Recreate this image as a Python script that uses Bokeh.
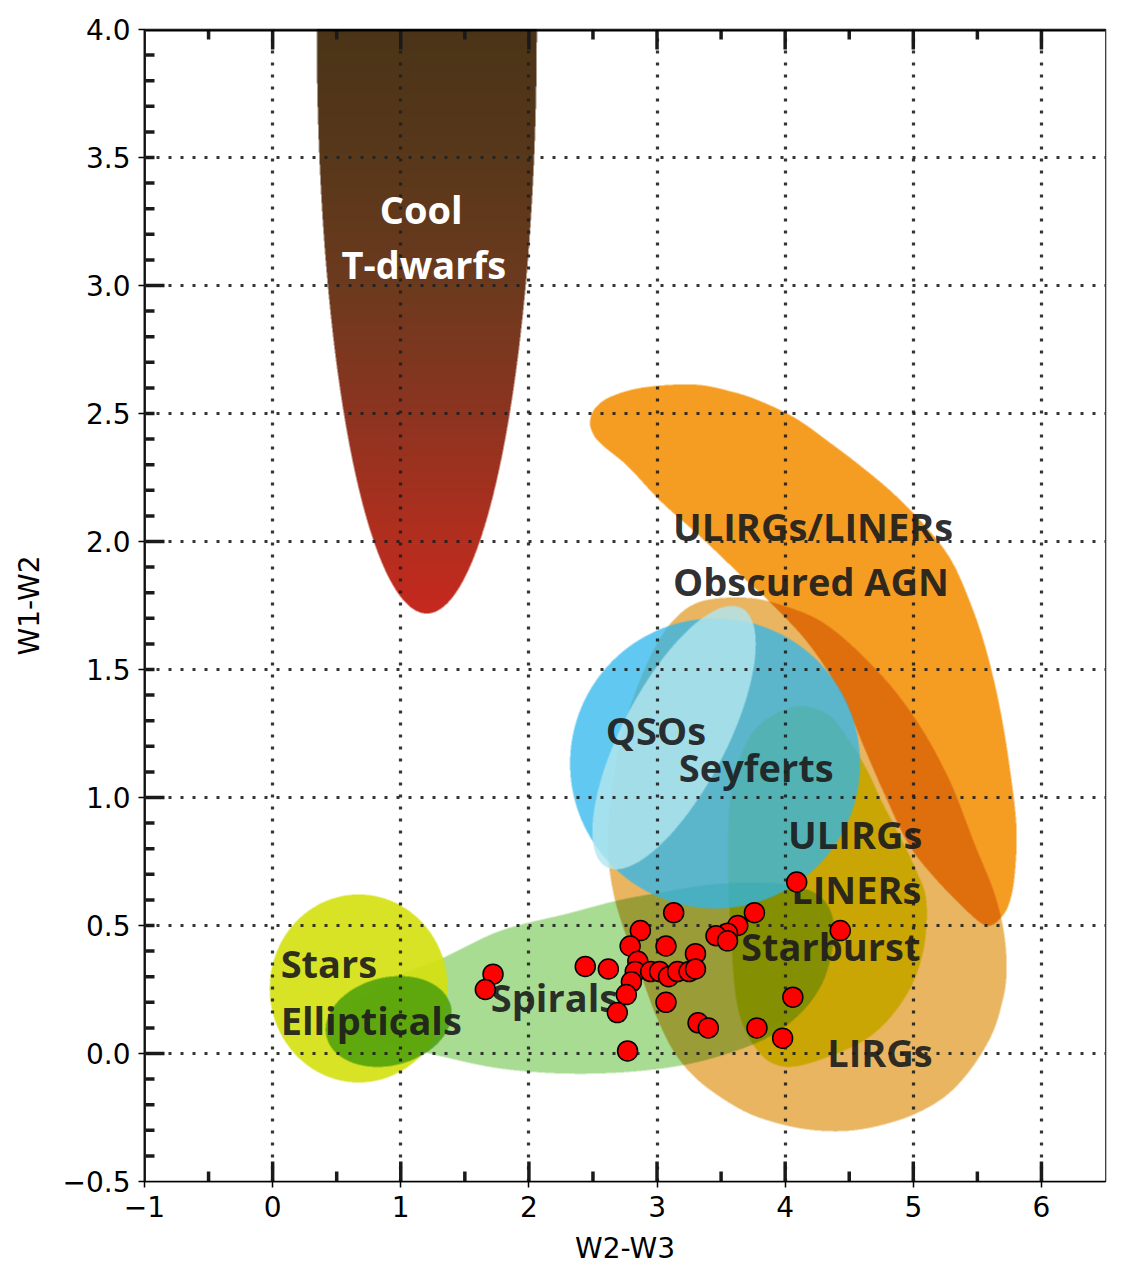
import numpy as np
from bokeh.plotting import figure
from bokeh.models import Range1d, FixedTicker, Span
from bokeh.core.properties import value
from bokeh.embed import file_html
from bokeh.resources import INLINE

# ---------------------------------------------------------------- data
# WISE colours of the sample sources
w2_w3 = [4.09, 3.13, 3.76, 4.43, 3.63, 3.55, 3.46, 3.55, 2.87, 2.79,
         3.07, 3.30, 2.85, 2.44, 2.62, 2.83, 2.80, 2.76, 2.69, 2.95,
         3.02, 3.09, 3.16, 3.25, 3.30, 3.07, 3.32, 3.40, 3.78, 3.98,
         4.06, 2.77, 1.72, 1.66]
w1_w2 = [0.67, 0.55, 0.55, 0.48, 0.50, 0.47, 0.46, 0.44, 0.48, 0.42,
         0.42, 0.39, 0.36, 0.34, 0.33, 0.32, 0.28, 0.23, 0.16, 0.32,
         0.32, 0.30, 0.32, 0.32, 0.33, 0.20, 0.12, 0.10, 0.10, 0.06,
         0.22, 0.01, 0.31, 0.25]

x_ticks = [-1, 0, 1, 2, 3, 4, 5, 6]
y_ticks = [-0.5, 0.0, 0.5, 1.0, 1.5, 2.0, 2.5, 3.0, 3.5, 4.0]
x_tick_labels = ["\u22121", "0", "1", "2", "3", "4", "5", "6"]
y_tick_labels = ["\u22120.5", "0.0", "0.5", "1.0", "1.5", "2.0", "2.5", "3.0", "3.5", "4.0"]

# ------------------------------------------------- source class regions
# outlines in (W2-W3, W1-W2)
obscured_x = [2.477, 2.516, 2.641, 2.898, 3.289, 3.578, 3.813, 4.086, 4.336, 4.594,
              4.852, 5.102, 5.297, 5.453, 5.570, 5.672, 5.750, 5.805, 5.789, 5.742,
              5.664, 5.570, 5.430, 5.164, 4.961, 4.773, 4.617, 4.438, 4.180, 3.891,
              3.656, 3.344, 3.031, 2.773, 2.586, 2.508]
obscured_y = [2.465, 2.520, 2.566, 2.602, 2.613, 2.586, 2.547, 2.480, 2.391, 2.293,
              2.184, 2.055, 1.926, 1.750, 1.574, 1.359, 1.125, 0.883, 0.688, 0.578,
              0.520, 0.500, 0.551, 0.688, 0.820, 1.016, 1.195, 1.406, 1.602, 1.758,
              1.867, 2.016, 2.156, 2.293, 2.371, 2.414]

lirg_x = [3.344, 3.656, 3.930, 4.305, 4.695, 5.008, 5.273, 5.477, 5.633, 5.711,
          5.727, 5.688, 5.609, 5.453, 5.258, 5.023, 4.773, 4.516, 4.258, 4.008,
          3.734, 3.500, 3.289, 3.125, 2.992, 2.875, 2.758, 2.664, 2.617, 2.641,
          2.719, 2.836, 2.992, 3.148]
lirg_y = [1.766, 1.781, 1.758, 1.680, 1.508, 1.313, 1.078, 0.820, 0.625, 0.461,
          0.305, 0.188, 0.070, -0.059, -0.164, -0.234, -0.277, -0.301, -0.301, -0.281,
          -0.238, -0.172, -0.090, 0.012, 0.148, 0.305, 0.461, 0.617, 0.793, 0.988,
          1.223, 1.418, 1.594, 1.703]

starburst_x = [4.047, 4.320, 4.500, 4.641, 4.750, 4.891, 5.023, 5.102, 5.078, 4.945,
               4.672, 4.281, 3.992, 3.789, 3.633, 3.578, 3.555, 3.578, 3.734]
starburst_y = [1.352, 1.328, 1.223, 1.105, 0.988, 0.852, 0.715, 0.594, 0.402, 0.227,
               0.070, -0.023, -0.051, 0.008, 0.172, 0.453, 0.730, 1.012, 1.246]

spirals_x = [0.570, 0.844, 1.078, 1.336, 1.781, 2.305, 2.695, 3.031, 3.422, 3.813,
             4.125, 4.305, 4.383, 4.359, 4.281, 4.125, 3.891, 3.578, 3.188, 2.719,
             2.250, 1.781, 1.391, 1.000, 0.688]
spirals_y = [0.160, 0.266, 0.324, 0.375, 0.480, 0.547, 0.598, 0.629, 0.660, 0.668,
             0.648, 0.598, 0.500, 0.383, 0.266, 0.160, 0.070, 0.004, -0.047, -0.074,
             -0.078, -0.059, -0.020, 0.031, 0.090]

# ellipses: centre (data), semi-axes (screen px), tilt (deg)
qso_ell = (3.453, 1.133, 145, 145, 0.0)
seyfert_ell = (3.133, 1.234, 146, 52, 62.5)
stars_ell = (0.672, 0.254, 89, 94, 0.0)
ellipticals_ell = (0.906, 0.125, 64, 44, 14.0)
tdwarf_ell = (1.203, 4.0, 110, 584, 0.0)

# T-dwarf colour ramp along W1-W2
tdwarf_stop_y = [1.72, 2.0, 2.5, 3.0, 3.5, 4.0]
tdwarf_stop_rgb = [(198, 40, 30), (178, 46, 30), (140, 52, 32),
                   (108, 58, 30), (88, 55, 26), (74, 52, 24)]

labels = [
    ("ULIRGs/LINERs", 3.125, 2.062), ("Obscured AGN", 3.125, 1.844),
    ("QSOs", 2.60, 1.262), ("Seyferts", 3.17, 1.121),
    ("ULIRGs", 4.023, 0.859), ("LINERs", 4.047, 0.641),
    ("Starburst", 3.656, 0.418), ("LIRGs", 4.328, 0.004),
    ("Stars", 0.0625, 0.355), ("Ellipticals", 0.0625, 0.129),
    ("Spirals", 1.703, 0.219),
]
tdwarf_labels = [("Cool", 1.16, 3.30), ("T-dwarfs", 1.18, 3.085)]

# ---------------------------------------------------------- layout
XMIN, XMAX, YMIN, YMAX = -1.0, 6.5, -0.5, 4.0
FW, FH = 961, 1152
SS = 2
W, H = FW * SS, FH * SS
SX = W / (XMAX - XMIN)
SY = H / (YMAX - YMIN)

cols = np.arange(W, dtype=np.float32) + 0.5
rows = np.arange(H, dtype=np.float32) + 0.5


def to_grid(x, y):
    return (np.asarray(x, float) - XMIN) * SX, (np.asarray(y, float) - YMIN) * SY


def smooth_closed(gx, gy, n=14):
    P = np.column_stack([gx, gy])
    m = len(P)
    t = np.linspace(0, 1, n, endpoint=False)[:, None]
    out = []
    for i in range(m):
        p0, p1, p2, p3 = P[i - 1], P[i], P[(i + 1) % m], P[(i + 2) % m]
        out.append(0.5 * (2 * p1 + (-p0 + p2) * t
                          + (2 * p0 - 5 * p1 + 4 * p2 - p3) * t ** 2
                          + (-p0 + 3 * p1 - 3 * p2 + p3) * t ** 3))
    Q = np.vstack(out)
    return Q[:, 0], Q[:, 1]


def poly_mask(xs, ys):
    gx, gy = smooth_closed(*to_grid(xs, ys))
    x0, y0 = gx, gy
    x1, y1 = np.roll(gx, -1), np.roll(gy, -1)
    Y = rows[:, None].astype(float)
    cond = ((y0 <= Y) & (y1 > Y)) | ((y1 <= Y) & (y0 > Y))
    r_idx, e_idx = np.nonzero(cond)
    yy = Y[r_idx, 0]
    xc = x0[e_idx] + (yy - y0[e_idx]) * (x1[e_idx] - x0[e_idx]) / (y1[e_idx] - y0[e_idx])
    c = np.clip(np.ceil(xc - 0.5), 0, W).astype(int)
    acc = np.zeros((H, W + 1), np.int16)
    np.add.at(acc, (r_idx, c), 1)
    return (np.cumsum(acc, axis=1)[:, :W] % 2).astype(np.float32)


def ellipse_mask(cx, cy, a_px, b_px, ang):
    gcx, gcy = to_grid(cx, cy)
    X = (cols - gcx)[None, :]
    Yv = (rows - gcy)[:, None]
    th = np.deg2rad(ang)
    u = X * np.cos(th) + Yv * np.sin(th)
    v = -X * np.sin(th) + Yv * np.cos(th)
    return ((u / (a_px * SS)) ** 2 + (v / (b_px * SS)) ** 2 <= 1.0).astype(np.float32)


def rgb(h):
    h = h.lstrip("#")
    return np.array([int(h[i:i + 2], 16) for i in (0, 2, 4)], np.float32) / 255.0


canvas = np.ones((H, W, 3), np.float32)


def multiply(mask, colour):
    c = rgb(colour)
    m = mask[..., None]
    canvas[:] = canvas * (1.0 - m + m * c)


def over(mask, colour, alpha):
    c = rgb(colour)
    m = (mask * alpha)[..., None]
    canvas[:] = canvas * (1.0 - m) + c * m


multiply(poly_mask(spirals_x, spirals_y), "#a9dc93")
multiply(poly_mask(lirg_x, lirg_y), "#e9b561")
multiply(poly_mask(starburst_x, starburst_y), "#dcea0a")
multiply(poly_mask(obscured_x, obscured_y), "#f49d22")
over(ellipse_mask(*stars_ell), "#d3e111", 0.92)
over(ellipse_mask(*ellipticals_ell), "#4a9e0a", 0.85)
over(ellipse_mask(*qso_ell), "#2eb6ec", 0.76)
over(ellipse_mask(*seyfert_ell), "#b2e6ef", 0.82)

# T-dwarf band with its vertical colour ramp
row_y = YMIN + rows / SY
ramp = np.stack([np.interp(row_y, tdwarf_stop_y, [c[k] for c in tdwarf_stop_rgb])
                 for k in range(3)], axis=1).astype(np.float32) / 255.0
tmask = ellipse_mask(*tdwarf_ell)[..., None]
canvas[:] = canvas * (1.0 - tmask) + ramp[:, None, :] * tmask

small = canvas.reshape(FH, SS, FW, SS, 3).mean(axis=(1, 3))
img = np.empty((FH, FW), dtype=np.uint32)
view = img.view(dtype=np.uint8).reshape((FH, FW, 4))
view[..., :3] = np.clip(np.round(small * 255), 0, 255).astype(np.uint8)
view[..., 3] = 255

# ---------------------------------------------------------- figure
p = figure(frame_width=FW, frame_height=FH,
           x_range=Range1d(XMIN, XMAX), y_range=Range1d(YMIN, YMAX),
           output_backend="svg", toolbar_location=None,
           min_border_left=144, min_border_right=24,
           min_border_top=29, min_border_bottom=100)
p.background_fill_color = "white"
p.border_fill_color = "white"
p.outline_line_color = "black"
p.outline_line_width = 1.5

bg = p.image_rgba(image=[img], x=XMIN, y=YMIN, dw=XMAX - XMIN, dh=YMAX - YMIN)
bg.level = "image"

# dotted grid
p.xgrid.ticker = FixedTicker(ticks=[t for t in x_ticks if t > XMIN])
p.ygrid.ticker = FixedTicker(ticks=[t for t in y_ticks if YMIN < t < YMAX])
for g in (p.xgrid, p.ygrid):
    g.grid_line_color = "#1f1f1f"
    g.grid_line_alpha = 0.9
    g.grid_line_width = 3.2
    g.grid_line_dash = "3 9"

# inner tick marks along the frame
left_t = np.round(np.arange(-0.4, 3.95, 0.1), 1)
left_len = [20 if abs(v - round(v)) < 1e-6 else 10 for v in left_t]
p.ray(x=[XMIN] * len(left_t), y=left_t, length=left_len, angle=0.0,
      length_units="screen", line_width=3.5, line_color="#1a1a1a")
half_t = np.round(np.arange(-0.5, 6.01, 0.5), 1)
half_len = [20 if abs(v - round(v)) < 1e-6 else 10 for v in half_t]
p.ray(x=half_t, y=[YMIN] * len(half_t), length=half_len, angle=np.pi / 2,
      length_units="screen", line_width=3.5, line_color="#1a1a1a")
p.ray(x=half_t, y=[YMAX] * len(half_t), length=half_len, angle=-np.pi / 2,
      length_units="screen", line_width=3.5, line_color="#1a1a1a")
p.add_layout(Span(location=YMAX, dimension="width", line_color="black", line_width=4))
p.add_layout(Span(location=XMIN, dimension="height", line_color="#222222", line_width=3))

# region names
p.text(x=[l[1] for l in labels], y=[l[2] for l in labels], text=[l[0] for l in labels],
       text_font=value("Open Sans"), text_font_style="bold", text_font_size="38px",
       text_color="#1c1c1c", text_alpha=0.92, text_align="left", text_baseline="middle")
p.text(x=[l[1] for l in tdwarf_labels], y=[l[2] for l in tdwarf_labels],
       text=[l[0] for l in tdwarf_labels],
       text_font=value("Open Sans"), text_font_style="bold", text_font_size="38px",
       text_color="white", text_align="center", text_baseline="middle")

# sources
p.scatter(w2_w3, w1_w2, size=20, fill_color="#ff0000", line_color="black", line_width=1.5)

# axes
p.xaxis.ticker = FixedTicker(ticks=x_ticks)
p.yaxis.ticker = FixedTicker(ticks=y_ticks)
p.xaxis.major_label_overrides = {float(t): s for t, s in zip(x_ticks, x_tick_labels)}
p.yaxis.major_label_overrides = {float(t): s for t, s in zip(y_ticks, y_tick_labels)}
p.xaxis.axis_label = "W2-W3"
p.yaxis.axis_label = "W1-W2"
for ax in (p.xaxis[0], p.yaxis[0]):
    ax.axis_line_color = "black"
    ax.axis_line_width = 1.5
    ax.major_tick_line_color = "black"
    ax.major_tick_line_width = 1.5
    ax.major_tick_out = 6
    ax.major_tick_in = 0
    ax.minor_tick_out = 0
    ax.minor_tick_in = 0
    ax.major_label_text_font = "DejaVu Sans"
    ax.major_label_text_font_size = "28px"
    ax.major_label_text_color = "black"
    ax.axis_label_text_font = "DejaVu Sans"
    ax.axis_label_text_font_size = "28px"
    ax.axis_label_text_font_style = "normal"
    ax.axis_label_text_color = "black"
p.xaxis.major_label_standoff = 8
p.yaxis.major_label_standoff = 8
p.xaxis.axis_label_standoff = 12
p.yaxis.axis_label_standoff = 14

open("out.html", "w").write(file_html(p, INLINE))
